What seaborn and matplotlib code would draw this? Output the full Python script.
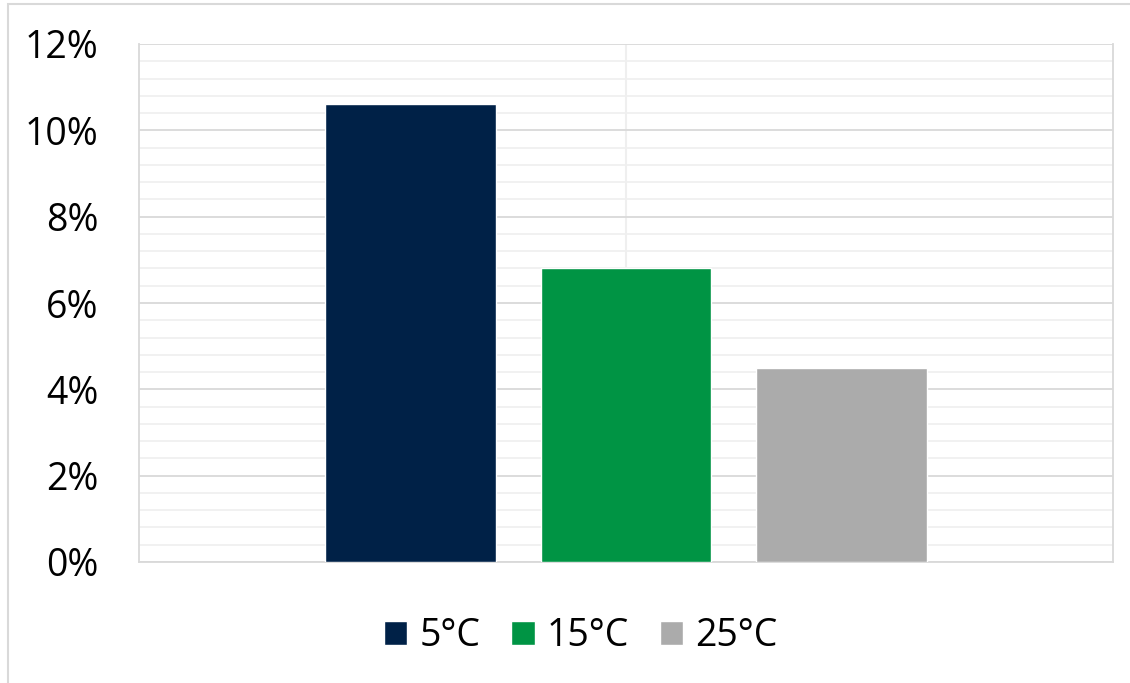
import matplotlib
matplotlib.use("Agg")
import matplotlib.pyplot as plt
from matplotlib.ticker import MultipleLocator, FuncFormatter
from matplotlib.patches import Rectangle
import seaborn as sns
import pandas as pd

# Share of samples by storage temperature
temperatures = ["5°C", "15°C", "25°C"]
shares = [10.6, 6.8, 4.5]
colors = ["#002147", "#009444", "#ABABAB"]

df = pd.DataFrame({"group": [""] * len(temperatures),
                   "temp": temperatures,
                   "share": shares})

sns.set_theme(style="white")
plt.rcParams["font.family"] = ["Open Sans", "DejaVu Sans"]
plt.rcParams["text.color"] = "black"

fig = plt.figure(figsize=(11.3, 6.83), dpi=100)
ax = fig.add_axes([139 / 1130, 1 - 562 / 683, (1113 - 139) / 1130, (562 - 44) / 683])

sns.barplot(data=df, x="group", y="share", hue="temp", hue_order=temperatures,
            palette=colors, width=0.664, gap=0.21, saturation=1,
            ax=ax, legend=True, zorder=3)

ax.set_xlim(-0.5, 0.5)
ax.set_ylim(0, 12)
ax.yaxis.set_major_locator(MultipleLocator(2))
ax.yaxis.set_minor_locator(MultipleLocator(0.4))
ax.yaxis.set_major_formatter(FuncFormatter(lambda v, _: f"{v:.0f}%"))
ax.grid(axis="y", which="major", color="#D9D9D9", linewidth=1.3, zorder=1)
ax.grid(axis="y", which="minor", color="#F0F0F0", linewidth=1.3, zorder=0)
ax.axvline(0, color="#EFEFEF", linewidth=1.5, zorder=0)
ax.set_xticks([])
ax.set_xlabel("")
ax.set_ylabel("")
ax.tick_params(axis="y", which="both", length=0, pad=29, labelsize=27, colors="black")
for side in ["left", "right", "bottom"]:
    ax.spines[side].set_color("#D9D9D9")
    ax.spines[side].set_linewidth(1.3)
ax.spines["top"].set_visible(False)

handles, labels = ax.get_legend_handles_labels()
ax.legend_.remove()
fig.legend(handles, labels, loc="center", bbox_to_anchor=(0.514, 1 - 636 / 683),
           ncol=3, frameon=False, fontsize=27, handlelength=0.62, handleheight=0.62,
           handletextpad=0.32, columnspacing=0.83, labelcolor="black")

# chart frame
fig.patches.append(Rectangle((8 / 1130, -0.1), 1.2, 1 - 4 / 683 + 0.1,
                             transform=fig.transFigure, fill=False,
                             edgecolor="#D9D9D9", linewidth=1.5))

fig.savefig("out.png", dpi=100)
